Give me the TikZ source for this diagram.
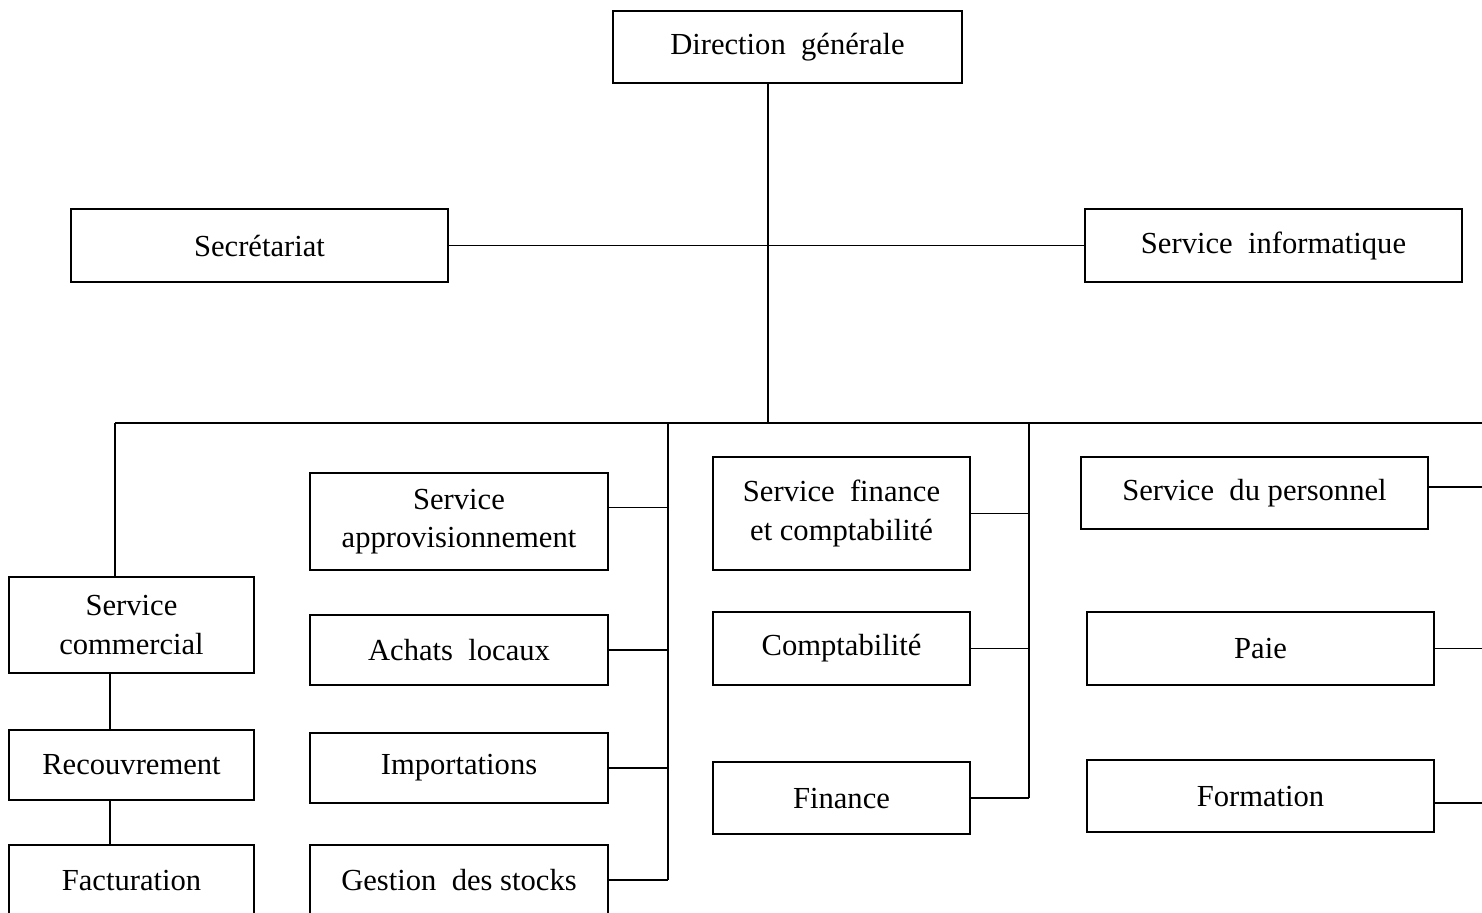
\documentclass[tikz,border=0pt]{standalone}
\usepackage{fontspec}
\setmainfont{Liberation Serif}
\usepackage{tikz}
\usetikzlibrary{positioning}
\tikzstyle{box} = [rectangle, draw, line width=0.9pt, text centered, align=center, inner sep=0pt, font=\fontsize{15.3}{19.2}\selectfont]
\tikzstyle{link} = [line width=0.9pt]

\begin{document}
\begin{tikzpicture}[x=0.5pt, y=-0.5pt] % pixel grid, y going down

        \path[use as bounding box] (0,0) rectangle (1482,912);
        \clip (0,0) rectangle (1482,912);

        % Top level
        \node (dg) [box, minimum width=174.5pt, minimum height=36pt] at (787.5,47) {Direction~~générale};
        \node (secr) [box, minimum width=188.5pt, minimum height=36.5pt] at (259.5,245.5) {Secrétariat};
        \node (info) [box, minimum width=188.5pt, minimum height=36.5pt] at (1273.5,245.5) {Service~~informatique};

        % Service commercial column
        \node (comm) [box, minimum width=122.5pt, minimum height=48pt] at (131.5,625) {Service\\commercial};
        \node (recouv) [box, minimum width=122.5pt, minimum height=35pt] at (131.5,765) {Recouvrement};
        \node (fact) [box, minimum width=122.5pt, minimum height=35pt] at (131.5,880) {Facturation};

        % Approvisionnement column
        \node (appro) [box, minimum width=149pt, minimum height=48.5pt] at (459,521.5) {Service\\approvisionnement};
        \node (achats) [box, minimum width=149pt, minimum height=35pt] at (459,650) {Achats~~locaux};
        \node (import) [box, minimum width=149pt, minimum height=35pt] at (459,768) {Importations};
        \node (stocks) [box, minimum width=149pt, minimum height=35pt] at (459,880) {Gestion~~des stocks};

        % Finance column
        \node (sfc) [box, minimum width=128.5pt, minimum height=56.5pt] at (841.5,513.5) {Service~~finance\\et comptabilité};
        \node (compta) [box, minimum width=128.5pt, minimum height=36.5pt] at (841.5,648.5) {Comptabilité};
        \node (finance) [box, minimum width=128.5pt, minimum height=36pt] at (841.5,798) {Finance};

        % Personnel column
        \node (pers) [box, minimum width=173.5pt, minimum height=36pt] at (1254.5,493) {Service~~du personnel};
        \node (paie) [box, minimum width=173.5pt, minimum height=36.5pt] at (1260.5,648.5) {Paie};
        \node (form) [box, minimum width=173.5pt, minimum height=36pt] at (1260.5,796) {Formation};

        % Bus and column lines
        \coordinate (bus) at (768,423);
        \coordinate (busL) at (115,423);
        \coordinate (busR) at (1483,423);
        \coordinate (v2) at (668,423);
        \coordinate (v3) at (1029,423);
        \coordinate (c1) at (110,0);

        \draw [link] (dg.south -| bus) -- (bus);
        \draw [link] (secr.east) -- (info.west);
        \draw [link] (busL) -- (busR);

        % Commercial chain
        \draw [link] (busL) -- (busL |- comm.north);
        \draw [link] (comm.south -| c1) -- (recouv.north -| c1);
        \draw [link] (recouv.south -| c1) -- (fact.north -| c1);

        % Approvisionnement branches
        \draw [link] (v2) -- (v2 |- stocks.east);
        \draw [link] ([yshift=7pt]appro.east) -- ([yshift=7pt]appro.east -| v2);
        \draw [link] (achats.east) -- (achats.east -| v2);
        \draw [link] (import.east) -- (import.east -| v2);
        \draw [link] (stocks.east) -- (stocks.east -| v2);

        % Finance branches
        \draw [link] (v3) -- (v3 |- finance.east);
        \draw [link] (sfc.east) -- (sfc.east -| v3);
        \draw [link] (compta.east) -- (compta.east -| v3);
        \draw [link] (finance.east) -- (finance.east -| v3);

        % Personnel branches (right edge)
        \draw [link] (busR) -- (busR |- form.east);
        \draw [link] ([yshift=3pt]pers.east) -- ([yshift=3pt]pers.east -| busR);
        \draw [link] (paie.east) -- (paie.east -| busR);
        \draw [link] ([yshift=-3.5pt]form.east) -- ([yshift=-3.5pt]form.east -| busR);

    \end{tikzpicture}
\end{document}
